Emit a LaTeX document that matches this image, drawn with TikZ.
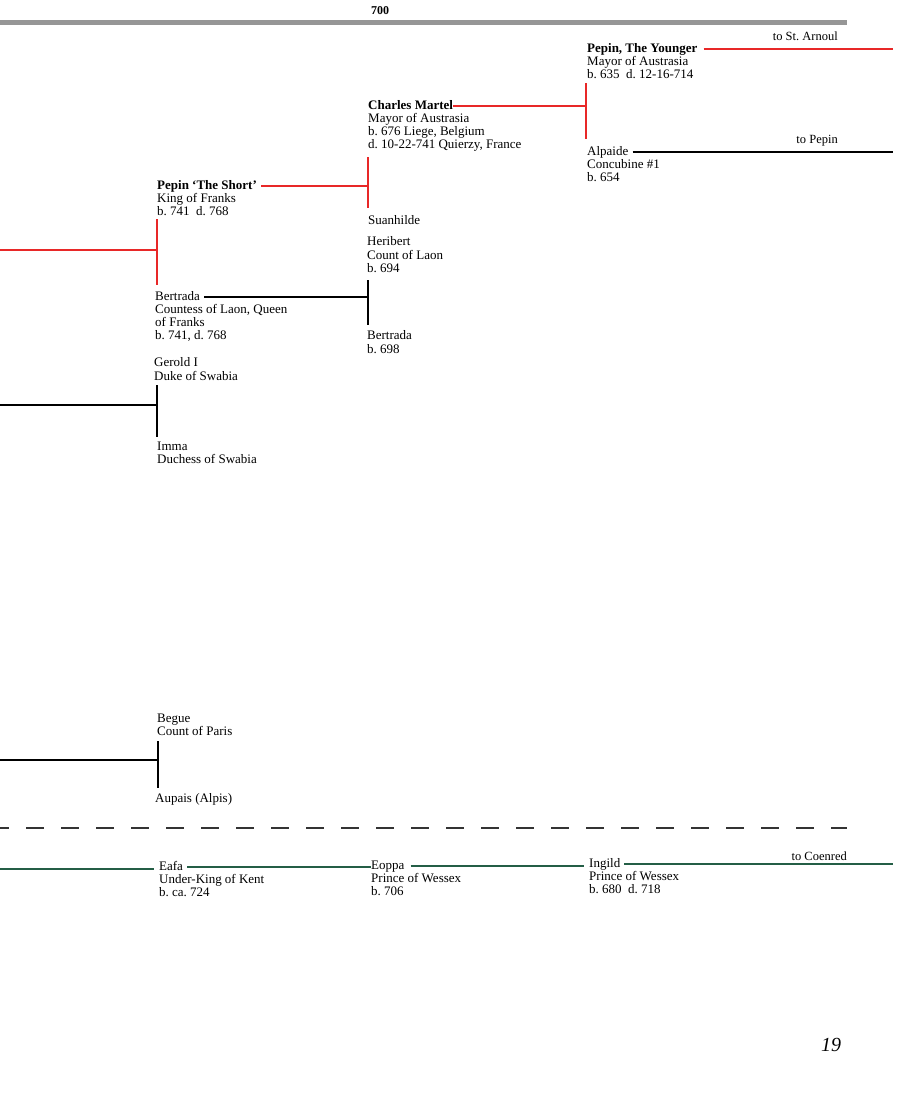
\documentclass[tikz,border=0pt]{standalone}
\usepackage{fontspec}
\setmainfont{Liberation Serif}
\usetikzlibrary{positioning}
\definecolor{famred}{RGB}{232,40,40}
\definecolor{famgreen}{RGB}{36,94,70}
\definecolor{bargray}{RGB}{150,150,150}
\frenchspacing

\begin{document}
\begin{tikzpicture}[x=1pt,y=-1pt]
		\tikzstyle{who}=[anchor=base west, inner sep=0pt, font=\fontsize{13}{13.2}\selectfont, text height=8pt, text depth=2pt]
		\tikzstyle{info}=[anchor=north west, inner sep=0pt, align=left, font=\fontsize{13}{13.2}\selectfont, execute at begin node=\strut, yshift=-3.96pt]
		\tikzstyle{person}=[info, yshift=13.2pt]
		\tikzstyle{onward}=[anchor=base east, inner sep=0pt, font=\fontsize{12.5}{13}\selectfont]
		\tikzstyle{red line}=[draw=famred, line width=1.6pt]
		\tikzstyle{black line}=[draw=black, line width=1.4pt]
		\tikzstyle{green line}=[draw=famgreen, line width=1.6pt]
		\tikzstyle{era line}=[draw=black!80, line width=1.8pt, dash pattern=on 18pt off 17pt, dash phase=9pt]

		\useasboundingbox (0,0) rectangle (900,1106);

		% year bar
		\node [font=\bfseries\fontsize{12}{12}\selectfont] (year) at (380,11) {700};
		\fill [bargray] (0,19.5) rectangle (847,24.5);

		% free ends and forks
		\coordinate (arnoul) at (893,49);
		\coordinate (pepin) at (893,153);
		\coordinate (coenred) at (893,865);
		\coordinate (f1a) at (586,83);  \coordinate (f1b) at (586,139);
		\coordinate (f2a) at (368,157); \coordinate (f2b) at (368,208);
		\coordinate (f3a) at (157,219); \coordinate (f3b) at (157,285);
		\coordinate (f4a) at (368,280); \coordinate (f4b) at (368,325);
		\coordinate (f5a) at (157,385); \coordinate (f5b) at (157,437);
		\coordinate (f6a) at (158,741); \coordinate (f6b) at (158,788);
		\coordinate (west3) at (0,250);
		\coordinate (west5) at (0,405);
		\coordinate (west6) at (0,760);
		\coordinate (west7) at (0,869);
		\coordinate (eraL) at (0,828);  \coordinate (eraR) at (847,828);

		% Pepin, The Younger and Alpaide
		\node [who] (py) at (587,52) {\textbf{Pepin, The Younger}};
		\node [info] (pyi) at (py.base west) {Mayor of Austrasia\\b. 635~~d. 12-16-714};
		\node [onward] (toarnoul) at (838,40) {to St. Arnoul};
		\draw [red line, shorten <=6pt] (py.east) -- (py.east -| arnoul);
		\draw [red line] (f1a) -- (f1b);
		\node [who] (alp) at (587,155) {Alpaide};
		\node [info] (alpi) at (alp.base west) {Concubine \#1\\b. 654};
		\node [onward] (topepin) at (838,143) {to Pepin};
		\draw [black line, shorten <=4pt] (alp.east) -- (alp.east -| pepin);

		% Charles Martel and Suanhilde
		\node [who] (cm) at (368,109) {\textbf{Charles Martel}};
		\node [info] (cmi) at (cm.base west) {Mayor of Austrasia\\b. 676 Liege, Belgium\\d. 10-22-741 Quierzy, France};
		\draw [red line] (cm.east) -- (cm.east -| f1a);
		\draw [red line] (f2a) -- (f2b);
		\node [person] (suan) at (368,224) {Suanhilde};

		% Heribert and Bertrada
		\node [person] (heri) at (367,246) {Heribert\\Count of Laon\\b. 694};
		\draw [black line] (f4a) -- (f4b);
		\node [person] (bertr) at (367,340) {Bertrada\\b. 698};

		% Pepin 'The Short' and Bertrada
		\node [who] (ps) at (157,189) {\textbf{Pepin `The Short'}};
		\node [info] (psi) at (ps.base west) {King of Franks\\b. 741~~d. 768};
		\draw [red line, shorten <=4pt] (ps.east) -- (ps.east -| f2a);
		\draw [red line] (f3a) -- (f3b);
		\draw [red line] (west3) -- (west3 -| f3a);
		\node [who] (bertl) at (155,300) {Bertrada};
		\node [info] (bertli) at (bertl.base west) {Countess of Laon, Queen\\of Franks\\b. 741, d. 768};
		\draw [black line, shorten <=4pt] (bertl.east) -- (bertl.east -| f4a);

		% Gerold I and Imma
		\node [person] (gerold) at (154,367) {Gerold I\\Duke of Swabia};
		\draw [black line] (f5a) -- (f5b);
		\draw [black line] (west5) -- (west5 -| f5a);
		\node [person] (imma) at (157,451) {Imma\\Duchess of Swabia};

		% Begue and Aupais
		\node [person] (begue) at (157,723) {Begue\\Count of Paris};
		\draw [black line] (f6a) -- (f6b);
		\draw [black line] (west6) -- (west6 -| f6a);
		\node [person] (aupais) at (155,802) {Aupais (Alpis)};

		\draw [era line] (eraL) -- (eraR);

		% Wessex
		\node [who] (eafa) at (159,870) {Eafa};
		\node [info] (eafai) at (eafa.base west) {Under-King of Kent\\b. ca. 724};
		\node [who] (eoppa) at (371,869) {Eoppa};
		\node [info] (eoppai) at (eoppa.base west) {Prince of Wessex\\b. 706};
		\node [who] (ingild) at (589,867) {Ingild};
		\node [info] (ingildi) at (ingild.base west) {Prince of Wessex\\b. 680~~d. 718};
		\node [onward] (tocoenred) at (847,860) {to Coenred};
		\draw [green line, shorten >=5pt] (west7) -- (west7 -| eafa.west);
		\draw [green line, shorten <=4pt] (eafa.east) -- (eafa.east -| eoppa.west);
		\draw [green line, shorten <=6pt, shorten >=5pt] (eoppa.east) -- (eoppa.east -| ingild.west);
		\draw [green line, shorten <=4pt] (ingild.east) -- (ingild.east -| coenred);

		\node [font=\itshape\fontsize{20}{20}\selectfont] (page) at (831,1045) {19};
	\end{tikzpicture}
\end{document}
